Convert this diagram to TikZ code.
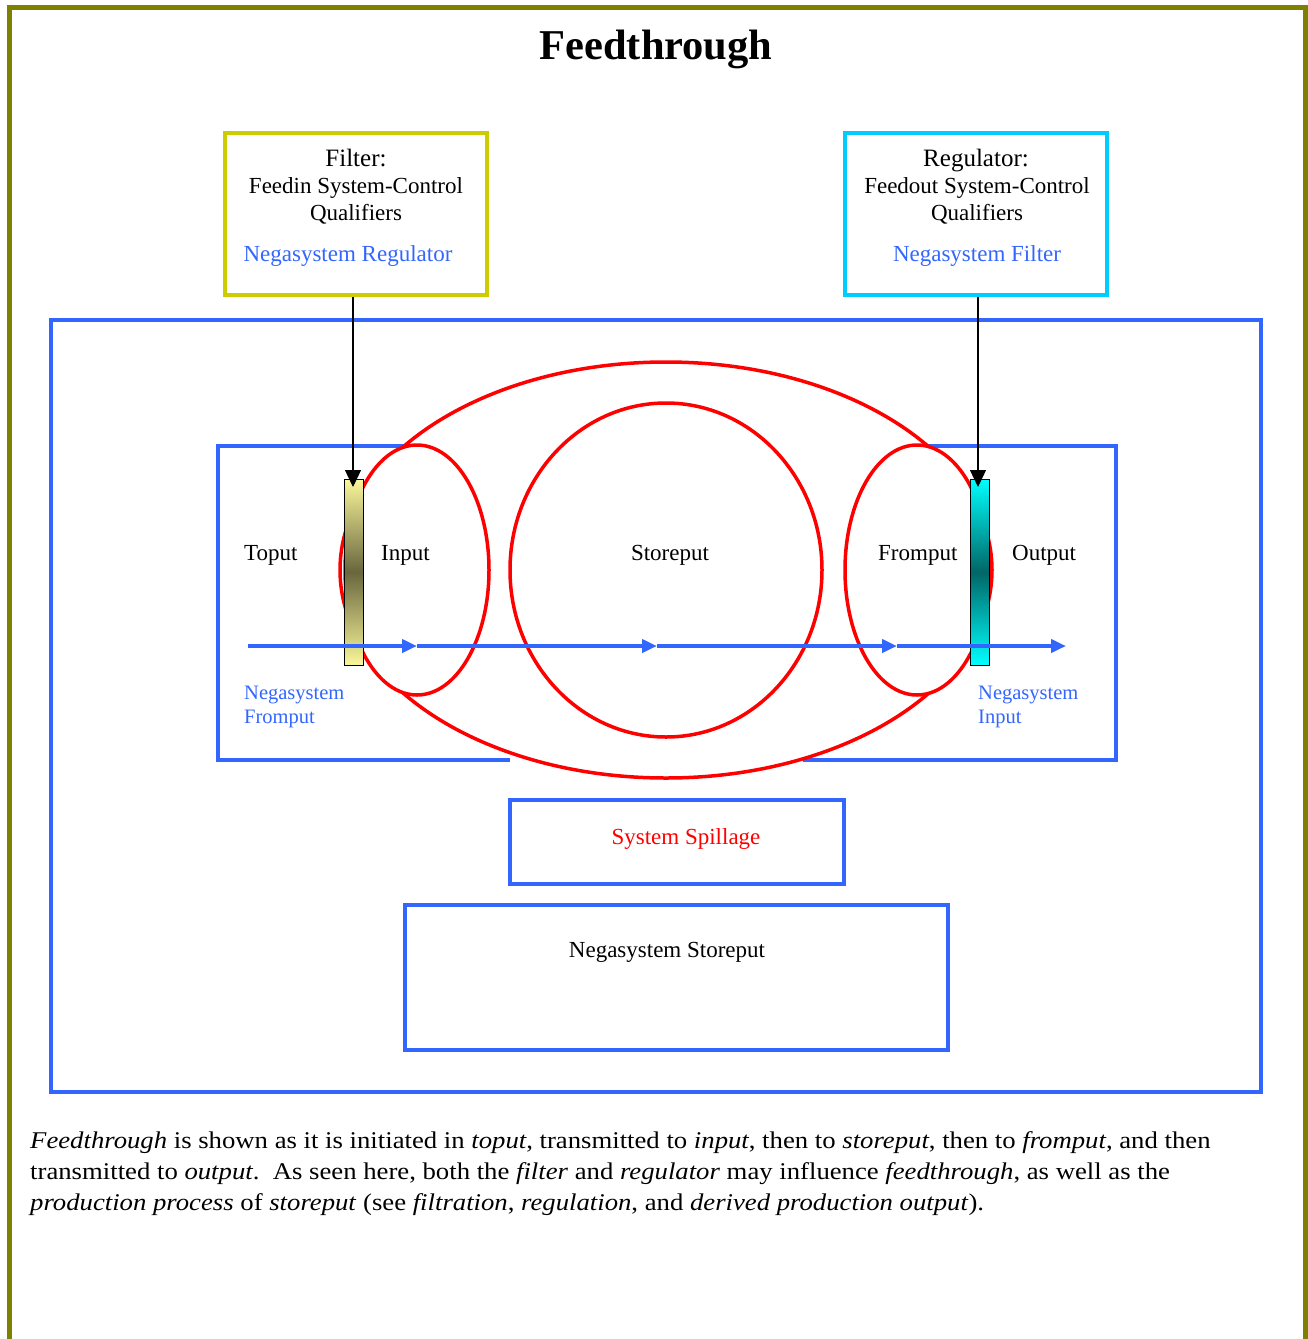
\documentclass[tikz,border=0pt]{standalone}
\usepackage{graphicx}
\usepackage{fontspec}
\setmainfont{Liberation Serif}
\usetikzlibrary{arrows.meta}

\definecolor{frameolive}{RGB}{128,128,0}
\definecolor{sysblue}{RGB}{51,102,255}
\definecolor{filteryellow}{RGB}{204,204,0}
\definecolor{regcyan}{RGB}{0,204,255}
\definecolor{barlight}{RGB}{250,247,155}
\definecolor{bardark}{RGB}{105,102,62}
\definecolor{cyanlight}{RGB}{0,255,255}
\definecolor{cyandark}{RGB}{0,102,102}

\newcommand{\capline}[1]{\scalebox{1.113}[1]{#1}}

\tikzset{
  sysline/.style={draw=sysblue, line width=4pt},
  loopline/.style={draw=red, line width=3.5pt, fill=white},
  ctrlbox/.style={line width=4pt, minimum width=262pt, minimum height=162pt, inner sep=0pt},
  sysbox/.style={draw=sysblue, line width=3.5pt, inner sep=0pt},
  gatebar/.style={draw=black, line width=1pt, minimum width=19pt, minimum height=186pt, inner sep=0pt},
  flow/.style={draw=sysblue, line width=4pt, -{Triangle[length=15pt,width=13pt]}},
  ctrlarrow/.style={draw=black, line width=1.3pt, -{Triangle[length=17pt,width=16pt]}},
  lbl/.style={anchor=base, inner sep=0pt, font=\fontsize{23}{27}\selectfont},
  lblw/.style={anchor=base west, inner sep=0pt, font=\fontsize{23}{27}\selectfont},
  neglbl/.style={anchor=base west, inner sep=0pt, text=sysblue, font=\fontsize{20.5}{24}\selectfont},
  captionline/.style={anchor=base west, inner sep=0pt, font=\fontsize{24}{31}\selectfont},
}

\begin{document}
\begin{tikzpicture}[x=1pt, y=-1pt]
  \useasboundingbox (0,0) rectangle (1307,1339);

  % page frame, open at the bottom
  \draw[frameolive, line width=5pt] (9,1339) -- (9,7) -- (1305,7) -- (1305,1339);

  % title
  \node[anchor=base, inner sep=0pt, font=\fontsize{42.5}{50}\selectfont\bfseries] (title) at (656,59) {Feedthrough};

  % outer system boundary
  \draw[sysline] (51,320) rectangle (1261,1092);

  % inner process band, left and right halves
  \draw[sysline] (407,446) -- (218,446) -- (218,760) -- (510,760);
  \draw[sysline] (926,446) -- (1116,446) -- (1116,760) -- (803,760);

  % feedthrough loops
  \draw[loopline] (666,570) ellipse [x radius=326, y radius=208];
  \draw[loopline] (666,570) ellipse [x radius=156, y radius=167];
  \draw[loopline] (417,570) ellipse [x radius=72, y radius=125];
  \draw[loopline] (917,570) ellipse [x radius=72, y radius=125];

  % filter and regulator boxes
  \node[ctrlbox, draw=filteryellow] (filter) at (356,214) {};
  \node[ctrlbox, draw=regcyan] (regulator) at (976,214) {};

  \node[lbl, font=\fontsize{25}{29}\selectfont] (ftitle) at (356,166) {Filter:};
  \node[lbl] (fline1) at (356,193) {Feedin System-Control};
  \node[lbl] (fline2) at (356,220) {Qualifiers};
  \node[lbl, text=sysblue] (fneg) at (348,261) {Negasystem Regulator};

  \node[lbl, font=\fontsize{25}{29}\selectfont] (rtitle) at (976,166) {Regulator:};
  \node[lbl] (rline1) at (977,193) {Feedout System-Control};
  \node[lbl] (rline2) at (977,220) {Qualifiers};
  \node[lbl, text=sysblue] (rneg) at (977,261) {Negasystem Filter};

  % gates
  \node[gatebar, top color=barlight, bottom color=barlight, middle color=bardark] (lgate) at (353.5,572) {};
  \node[gatebar, top color=cyanlight, bottom color=cyanlight, middle color=cyandark] (rgate) at (979.5,572) {};

  % feedthrough flow
  \coordinate (f0) at (248,646);
  \coordinate (f1) at (417,646);
  \coordinate (f2) at (657,646);
  \coordinate (f3) at (897,646);
  \coordinate (f4) at (1066,646);
  \draw[flow] (f0) -- (f1);
  \draw[flow] (f1) -- (f2);
  \draw[flow] (f2) -- (f3);
  \draw[flow] (f3) -- (f4);

  % control arrows into the gates
  \coordinate (ltip) at (353,487);
  \coordinate (rtip) at (978,487);
  \draw[ctrlarrow] (filter.south -| ltip) -- (ltip);
  \draw[ctrlarrow] (regulator.south -| rtip) -- (rtip);

  % stage labels
  \node[lblw] (toput) at (244,560) {Toput};
  \node[lblw] (input) at (381,560) {Input};
  \node[lbl] (storeput) at (670,560) {Storeput};
  \node[lblw] (fromput) at (878,560) {Fromput};
  \node[lblw] (output) at (1012,560) {Output};

  \node[neglbl] (negfrom1) at (244,699) {Negasystem};
  \node[neglbl] (negfrom2) at (244,723) {Fromput};
  \node[neglbl] (negin1) at (978,699) {Negasystem};
  \node[neglbl] (negin2) at (978,723) {Input};

  % spillage and negasystem storeput
  \node[sysbox, minimum width=334pt, minimum height=84pt] (spill) at (677,842) {};
  \node[lbl, text=red] (spilltext) at (686,844) {System Spillage};
  \node[sysbox, minimum width=543pt, minimum height=145pt] (negstore) at (676.5,977.5) {};
  \node[lbl] (negstoretext) at (667,957) {Negasystem Storeput};

  % caption
  \node[captionline] (cap1) at (30,1148) {\capline{\textit{Feedthrough} is shown as it is initiated in \textit{toput}, transmitted to \textit{input}, then to \textit{storeput}, then to \textit{fromput}, and then}};
  \node[captionline] (cap2) at (30,1179) {\capline{transmitted to \textit{output}.\ \ As seen here, both the \textit{filter} and \textit{regulator} may influence \textit{feedthrough}, as well as the}};
  \node[captionline] (cap3) at (30,1210) {\capline{\textit{production process} of \textit{storeput} (see \textit{filtration}, \textit{regulation}, and \textit{derived production output}).}};
\end{tikzpicture}
\end{document}
